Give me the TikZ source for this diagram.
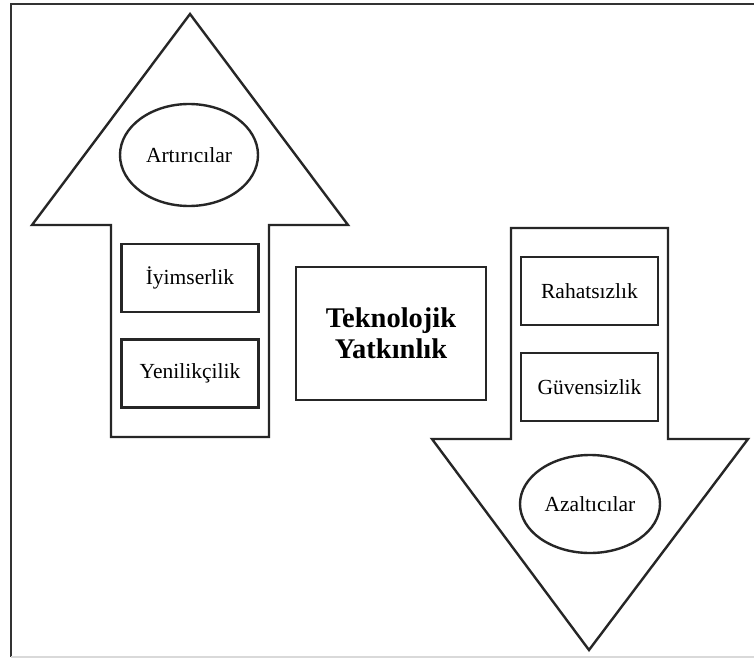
\documentclass[tikz,border=0pt]{standalone}
\usepackage{fontspec}
\setmainfont{Liberation Serif}
\usetikzlibrary{shapes.geometric}
\begin{document}
\begin{tikzpicture}[x=1pt,y=-1pt,
  outline/.style={draw=black!85,line width=2.4pt,line join=miter},
  itembox/.style={outline,rectangle,minimum width=137pt,minimum height=68pt,inner sep=0pt,font=\fontsize{21.5}{25}\selectfont},
  oval/.style={outline,ellipse,inner sep=0pt,font=\fontsize{21.5}{25}\selectfont},
  corebox/.style={outline,rectangle,minimum width=190pt,minimum height=133pt,inner sep=0pt,align=center,font=\fontsize{28.5}{31}\selectfont\bfseries}]
\useasboundingbox (0,0) rectangle (754,658);
\fill[white] (0,0) rectangle (754,658);

% frame
\draw[black!80,line width=2.2pt] (754,4) -- (11,4) -- (11,657);
\draw[black!15,line width=1.5pt] (11,657) -- (754,657);

% upward arrow
\draw[outline] (190,14) -- (348,225) -- (269,225) -- (269,437)
  -- (111,437) -- (111,225) -- (32,225) -- cycle;

% downward arrow
\draw[outline] (511,228) -- (668,228) -- (668,439) -- (748,439)
  -- (589,650) -- (432,439) -- (511,439) -- cycle;

% contents of the upward arrow
\node[oval,minimum width=138pt,minimum height=102pt] (art) at (189,155) {Artırıcılar};
\node[itembox] (iyi) at (190,278) {İyimserlik};
\node[itembox] (yen) at (190,373.5) {Yenilikçilik};

% central concept
\node[corebox] (tek) at (391,333.5) {Teknolojik\\Yatkınlık};

% contents of the downward arrow
\node[itembox] (rah) at (589.5,291) {Rahatsızlık};
\node[itembox] (guv) at (589.5,387) {Güvensizlik};
\node[oval,minimum width=140pt,minimum height=98pt] (aza) at (590,504) {Azaltıcılar};
\end{tikzpicture}
\end{document}
